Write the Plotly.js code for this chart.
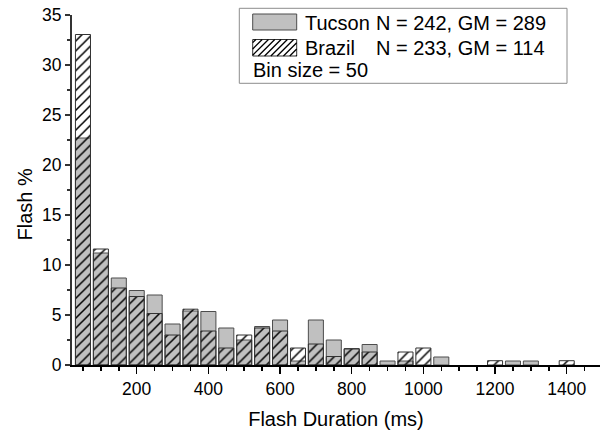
<!DOCTYPE html>
<html>
<head>
<meta charset="utf-8">
<script src="https://cdn.plot.ly/plotly-3.0.1.min.js"></script>
<style>html,body{margin:0;padding:0;background:#fff}#chart{width:601px;height:430px}</style>
</head>
<body>
<div id="chart"></div>
<script>
// ---- data (bin size = 50 ms, bars plotted at the bin's upper edge) ----
const binEdges = [50,100,150,200,250,300,350,400,450,500,550,600,650,700,750,800,850,900,950,1000,1050,1100,1150,1200,1250,1300,1350,1400];
const tucsonPct = [22.7,11.2,8.7,7.45,7.0,4.1,5.4,5.35,3.7,2.5,3.85,4.5,0.4,4.5,2.5,1.65,2.05,0.4,0.4,0,0.8,0,0,0,0.4,0.4,0,0];
const brazilPct = [33.05,11.6,7.7,6.85,5.15,3.0,5.58,3.4,1.7,3.0,3.7,3.4,1.7,2.1,0.85,1.6,1.3,0,1.3,1.7,0,0,0,0.43,0,0,0,0.43];
const seriesNames = ['Tucson', 'Brazil'];
const seriesStats = ['N = 242, GM = 289', 'N = 233, GM = 114'];
const noteText = 'Bin size = 50';
const xTitle = 'Flash Duration (ms)';
const yTitle = 'Flash %';

// ---- layout geometry ----
const W = 601, H = 430, ML = 72, MR = 1, MT = 15, MB = 65;
const PW = W - ML - MR, PH = H - MT - MB;
const px = x => (x - ML) / PW;          // pixel x -> paper
const py = y => (H - MB - y) / PH;      // pixel y (from top) -> paper
const FONT = 'Arial, "Liberation Sans", sans-serif';
const noEmpty = arr => arr.map(v => (v > 0 ? v : null)); // empty bins draw no bar

const traces = [
  {
    type: 'bar', name: seriesNames[0], x: binEdges, y: noEmpty(tucsonPct), width: 42,
    marker: {color: '#c0c0c0', line: {color: '#4d4d4d', width: 1}},
    hoverinfo: 'x+y'
  },
  {
    type: 'bar', name: seriesNames[1], x: binEdges, y: noEmpty(brazilPct), width: 42,
    marker: {
      color: 'rgba(0,0,0,0)', line: {color: '#333333', width: 1},
      pattern: {shape: '/', fgcolor: '#000000', bgcolor: 'rgba(0,0,0,0)', size: 7, solidity: 0.22, fillmode: 'replace'}
    },
    hoverinfo: 'x+y'
  }
];

// legend drawn by hand (large swatches)
const sw = {x0: 252.7, x1: 296.7};
const row1 = {y0: 14, y1: 30}, row2 = {y0: 39.5, y1: 56};
function hatchPath(x0, x1, y0, y1, d) {
  let p = '';
  for (let c = x0 + y0 + d / 2; c < x1 + y1; c += d) {
    const ax = Math.max(x0, c - y1), bx = Math.min(x1, c - y0);
    if (bx - ax < 0.5) continue;
    p += 'M' + px(ax).toFixed(5) + ',' + py(c - ax).toFixed(5) + 'L' + px(bx).toFixed(5) + ',' + py(c - bx).toFixed(5);
  }
  return p;
}
const shapes = [
  {type: 'rect', xref: 'paper', yref: 'paper', x0: px(239.3), x1: px(567), y0: py(83.3), y1: py(8.3),
   line: {color: '#8c8c8c', width: 1}, fillcolor: 'rgba(0,0,0,0)'},
  {type: 'rect', xref: 'paper', yref: 'paper', x0: px(sw.x0), x1: px(sw.x1), y0: py(row1.y1), y1: py(row1.y0),
   line: {color: '#4d4d4d', width: 1}, fillcolor: '#c0c0c0'},
  {type: 'rect', xref: 'paper', yref: 'paper', x0: px(sw.x0), x1: px(sw.x1), y0: py(row2.y1), y1: py(row2.y0),
   line: {color: '#333333', width: 1}, fillcolor: '#ffffff'},
  {type: 'path', xref: 'paper', yref: 'paper', path: hatchPath(sw.x0, sw.x1, row2.y0, row2.y1, 6.3),
   line: {color: '#000000', width: 1.3}}
];
const lf = {family: FONT, size: 20, color: '#000'};
const ann = (text, x, y, extra) => Object.assign({text, xref: 'paper', yref: 'paper', x: px(x), y: py(y),
  xanchor: 'left', yanchor: 'middle', showarrow: false, font: lf}, extra || {});
const annotations = [
  ann(seriesNames[0], 302.5, 22.5),
  ann(seriesStats[0], 374, 22.5),
  ann(seriesNames[1], 302.5, 48),
  ann(seriesStats[1], 374, 48),
  ann(noteText, 251, 70),
  ann(yTitle, 24.5, 205, {xanchor: 'center', textangle: -90})
];

const layout = {
  width: W, height: H,
  margin: {l: ML, r: MR, t: MT, b: MB, pad: 0},
  paper_bgcolor: '#ffffff', plot_bgcolor: '#ffffff',
  barmode: 'overlay', showlegend: false,
  font: {family: FONT, color: '#000'},
  xaxis: {
    range: [19.4, 1492.9], tickmode: 'linear', tick0: 0, dtick: 200,
    ticks: 'outside', ticklen: 7, tickwidth: 1.5, tickcolor: '#000',
    showline: true, linecolor: '#000', linewidth: 1.5, mirror: false,
    showgrid: false, zeroline: false,
    tickfont: {family: FONT, size: 17.5, color: '#000'},
    minor: {tick0: 0, dtick: 50, ticks: 'outside', ticklen: 4, tickwidth: 1.5, tickcolor: '#000', showgrid: false},
    title: {text: xTitle, font: {family: FONT, size: 20, color: '#000'}, standoff: 15}
  },
  yaxis: {
    range: [0, 35], tickmode: 'linear', tick0: 0, dtick: 5,
    ticks: 'outside', ticklen: 5, tickwidth: 1.5, tickcolor: '#333',
    showline: true, linecolor: '#333', linewidth: 2,
    showgrid: false, zeroline: false,
    tickfont: {family: FONT, size: 17.5, color: '#000'},
    minor: {tick0: 0, dtick: 2.5, ticks: 'outside', ticklen: 3, tickwidth: 1.5, tickcolor: '#333', showgrid: false}
  },
  shapes, annotations
};

Plotly.newPlot('chart', traces, layout, {staticPlot: true, displayModeBar: false});
</script>
</body>
</html>
